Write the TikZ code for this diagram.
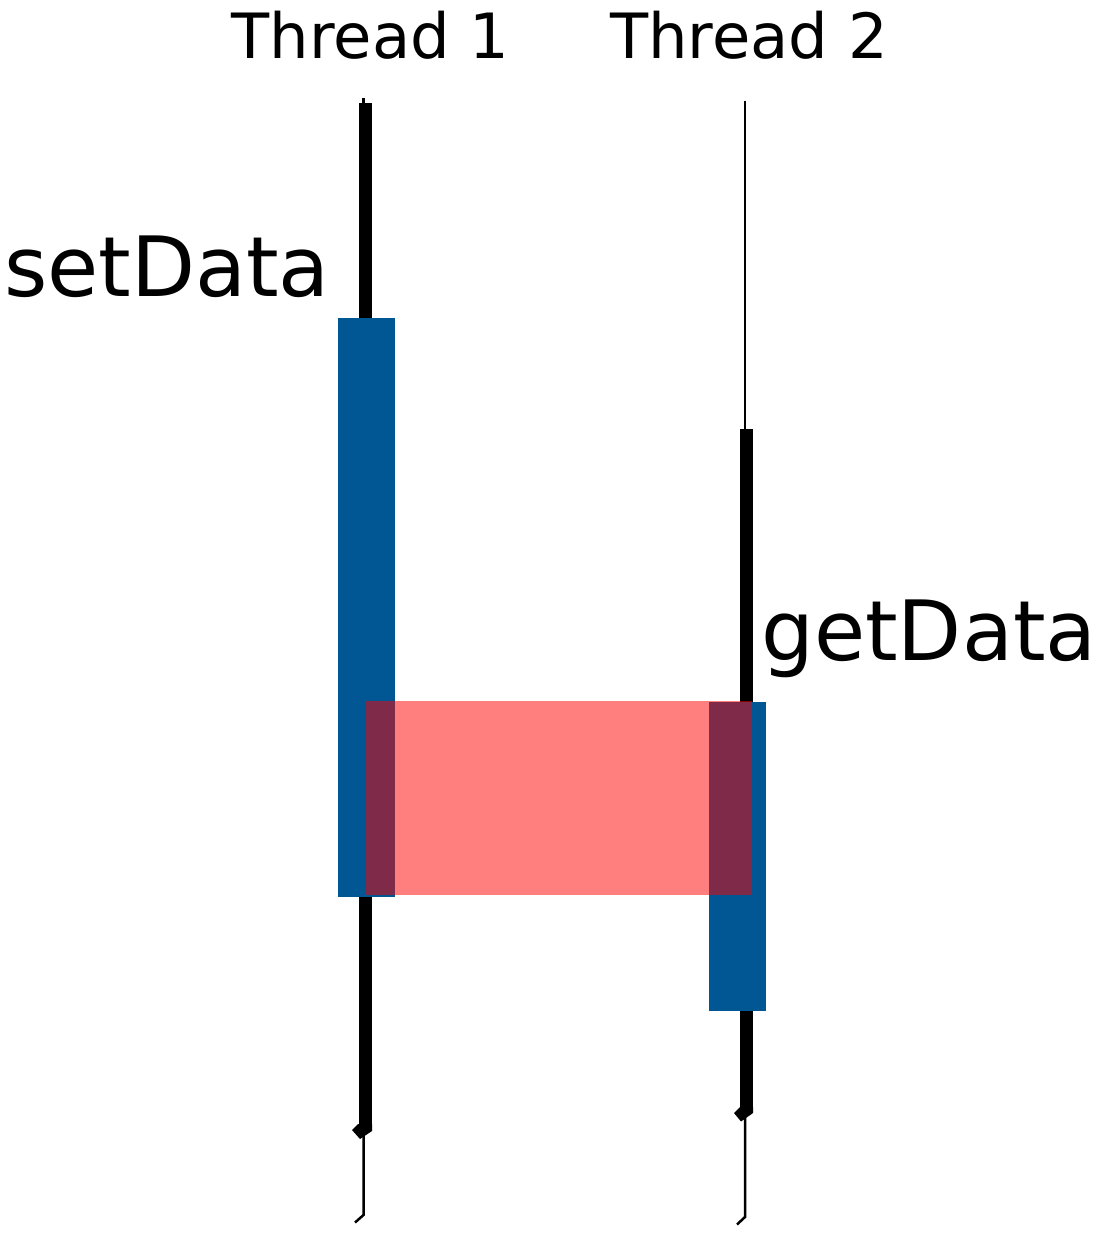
\documentclass[tikz,border=0pt]{standalone}
\usepackage{fontspec}
\setmainfont{DejaVu Sans}
\definecolor{blockblue}{RGB}{1,86,148}
\begin{document}
\begin{tikzpicture}[x=1pt,y=-1pt,
  thinline/.style={line width=2.5pt,black},
  thickline/.style={line width=13pt,black},
  block/.style={fill=blockblue,draw=none},
  overlap/.style={fill=red,fill opacity=0.5,draw=none},
  headlabel/.style={inner sep=0pt,anchor=base,font=\fontsize{62.4}{68}\selectfont},
  calllabel/.style={inner sep=0pt,anchor=base,font=\fontsize{83.2}{90}\selectfont}]
\useasboundingbox (0,0) rectangle (1100,1238);
% labels
\node[headlabel] (t1) at (370.5,59) {Thread 1};
\node[headlabel] (t2) at (749,59) {Thread 2};
\node[calllabel] (set) at (167,297) {setData};
\node[calllabel] (get) at (929,660) {getData};
% thread 1 line
\coordinate (a0) at (363.5,98);
\coordinate (a1) at (363.5,104);
\coordinate (a2) at (365,103);
\coordinate (a3) at (365,1126);
\draw[line width=3pt] (a0) -- (a1);
\draw[thickline,line cap=butt] (a2) -- (a3);
\fill (372,1124) -- (372,1131) -- (360,1139) -- (352,1130) -- (358,1124) -- cycle;
\coordinate (a4) at (363.5,1134);
\coordinate (a5) at (363.5,1215);
\coordinate (a6) at (355,1222.5);
\draw[thinline,line join=miter] (a4) -- (a5) -- (a6);
% thread 2 line
\coordinate (b0) at (745,101);
\coordinate (b1) at (745,431);
\coordinate (b2) at (746.5,429);
\coordinate (b3) at (746.5,1109);
\draw[thinline] (b0) -- (b1);
\draw[thickline] (b2) -- (b3);
\fill (753,1107) -- (753,1113) -- (741,1121.5) -- (734,1113) -- (740,1107) -- cycle;
\coordinate (b4) at (745,1117);
\coordinate (b5) at (745,1217);
\coordinate (b6) at (737,1224.5);
\draw[thinline,line join=miter] (b4) -- (b5) -- (b6);
% blocks
\fill[block] (338,318) rectangle (395,897);
\fill[block] (709,702) rectangle (766,1011);
\fill[overlap] (366,701) rectangle (752,895);
\end{tikzpicture}
\end{document}
